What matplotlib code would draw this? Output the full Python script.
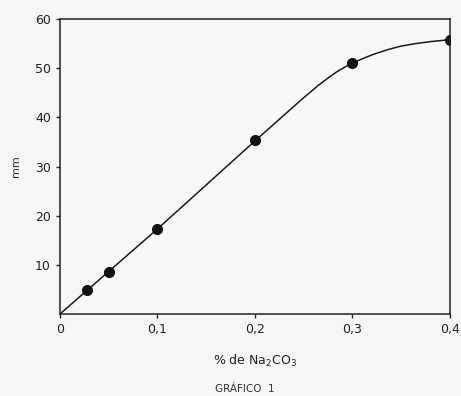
import matplotlib.pyplot as plt

# measured points
conc = [0.028, 0.05, 0.1, 0.2, 0.3, 0.4]
mm = [4.8, 8.6, 17.2, 35.4, 51.0, 55.8]

# hand drawn curve
curve_x = [0.0, 0.1, 0.2, 0.25, 0.265, 0.275, 0.285, 0.293, 0.3, 0.31, 0.32, 0.335, 0.35, 0.365, 0.38, 0.4]
curve_y = [0.0, 17.3, 35.2, 44.0, 46.5, 48.0, 49.4, 50.3, 51.0, 51.9, 52.7, 53.7, 54.5, 55.0, 55.4, 55.8]

xticks = [0, 0.1, 0.2, 0.3, 0.4]
xticklabels = ['0', '0,1', '0,2', '0,3', '0,4']
yticks = [10, 20, 30, 40, 50, 60]

fig = plt.figure(figsize=(4.61, 3.96), dpi=100)
fig.patch.set_facecolor('#f6f6f6')
ax = fig.add_axes([0.130, 0.207, 0.846, 0.745])
ax.set_facecolor('#f8f8f8')

ax.plot(curve_x, curve_y, color='#1a1a1a', lw=1.1)
ax.plot(conc, mm, 'o', color='#111111', ms=7)

ax.set_xlim(0, 0.4)
ax.set_ylim(0, 60)
ax.set_xticks(xticks)
ax.set_xticklabels(xticklabels)
ax.set_yticks(yticks)
ax.tick_params(labelsize=9, length=3, width=1, colors='#222222')
for s in ax.spines.values():
    s.set_linewidth(1.1)
    s.set_color('#222222')

ax.set_ylabel('mm', fontsize=8, labelpad=10, color='#333333')
ax.set_xlabel('% de Na$_2$CO$_3$', fontsize=9, labelpad=12, color='#222222')
fig.text(0.53, 0.01, 'GRÁFICO  1', fontsize=7.5, ha='center', color='#333333')

plt.savefig('out.png', dpi=100, facecolor=fig.get_facecolor())
